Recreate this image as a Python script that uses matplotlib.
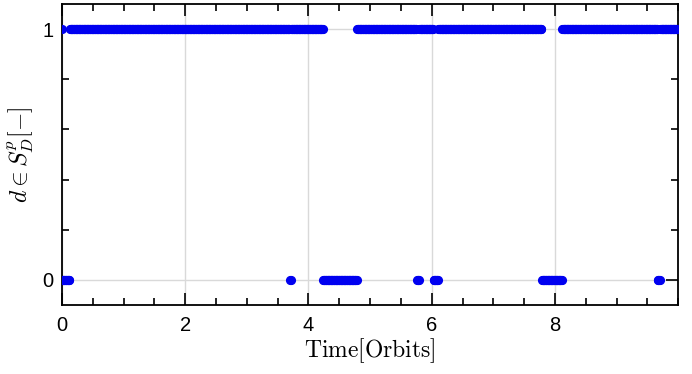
import matplotlib.pyplot as plt
import numpy as np
from matplotlib.ticker import MultipleLocator

# initial condition point
t_init = [0.0]
d_init = [1]

# times (orbits) where the decision switches, and the state from that time on
switch_times = [0.0, 0.13, 3.70, 3.72, 4.24, 4.79, 5.76, 5.80, 6.03, 6.11, 7.79, 8.12, 9.67, 9.71]
switch_states = [0, 1, 0, 1, 0, 1, 0, 1, 0, 1, 0, 1, 0, 1]
t_end = 9.98
dt = 0.01

t = np.arange(0.0, t_end + dt / 2, dt)
idx = np.searchsorted(switch_times, t + 1e-9, side='right') - 1
d = np.array(switch_states)[idx]

plt.rcParams['mathtext.fontset'] = 'cm'
plt.rcParams['font.family'] = ['Liberation Sans', 'DejaVu Sans']

fig = plt.figure(figsize=(6.92, 3.74), dpi=100)
ax = fig.add_axes([0.0896, 0.1845, 0.8904, 0.8045])

ax.plot(t_init, d_init, 'o', color='#0000f0', markersize=6.6, markeredgewidth=0, zorder=3)
ax.plot(t, d, 'o', color='#0000f0', markersize=6.6, markeredgewidth=0, zorder=3)

ax.set_xlim(0, 10)
ax.set_ylim(-0.1, 1.1)
ax.xaxis.set_major_locator(MultipleLocator(2))
ax.xaxis.set_minor_locator(MultipleLocator(0.5))
ax.yaxis.set_major_locator(MultipleLocator(1))
ax.yaxis.set_minor_locator(MultipleLocator(0.2))
ax.set_xticks([0, 2, 4, 6, 8])

ax.grid(True, which='major', color='#d9d9d9', linewidth=1, zorder=0)
ax.tick_params(which='both', direction='in', top=True, right=True, labelsize=14.5, width=1.2)
ax.tick_params(which='major', length=8.5)
ax.tick_params(which='minor', length=5)
ax.tick_params(axis='x', which='both', pad=8)
ax.tick_params(axis='y', which='both', pad=6)
for s in ax.spines.values():
    s.set_linewidth(1.3)

ax.set_xlabel(r'$\mathrm{Time[Orbits]}$', fontsize=17, labelpad=1)
ax.set_ylabel(r'$d \in S_D^p[-]$', fontsize=17, labelpad=5)

fig.savefig('out.png', dpi=100)
